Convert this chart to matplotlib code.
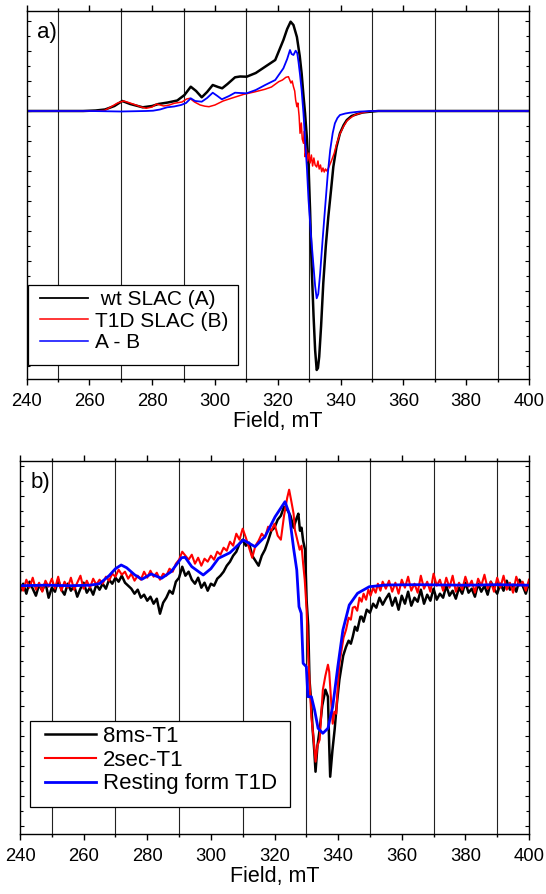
import matplotlib
matplotlib.use("Agg")
import matplotlib.pyplot as plt
from matplotlib.ticker import MultipleLocator
from matplotlib.lines import Line2D
from matplotlib.patches import Rectangle

plt.rcParams['font.family'] = ['Liberation Sans', 'DejaVu Sans']

# ---------------- panel a) data (field in mT, signal in arbitrary units) ----------------
a_black_field = [240, 250, 258, 262, 265, 268, 270.5, 273, 277, 280, 282, 285, 288, 290.3, 292.3, 294,
                 295.8, 297.5, 299.3, 301, 302.3, 304, 306.4, 308, 310.1, 313, 316, 319.2, 321.8, 323,
                 324.1, 325, 326.1, 327, 327.6, 328.2, 328.7, 329.3, 329.8, 330.3, 330.8, 331.4, 331.9,
                 332.4, 332.8, 333.2, 333.8, 334.5, 335.3, 336.1, 337, 337.7, 338.7, 339.8, 341, 342,
                 343.5, 345.1, 347, 349.4, 352, 360, 380, 400]
a_black = [0, 0, 0, 0.5, 1.5, 5, 10, 7, 3.7, 5, 7, 8.5, 10.5, 16, 24.3, 20,
           13.7, 19, 26, 24, 22.7, 27, 33.7, 34.5, 34.3, 38, 44.3, 51, 71, 82,
           89.3, 86, 74, 55, 37.7, 15, -2.3, -28, -55.7, -100, -155.7, -205, -239,
           -259, -257, -245.7, -215, -172, -135, -105.7, -78, -55.7, -36, -22.3, -14, -9,
           -5, -3.3, -1.5, -0.7, 0, 0, 0, 0]

a_red_field = [240, 255, 262, 264.8, 267, 269, 270.9, 272.5, 274.8, 276.5, 278.1, 280, 281.4, 283.7,
               285.5, 287, 289.5, 291, 292, 293.5, 295.3, 296.8, 298.1, 300, 302.6, 305, 309.2, 312.5,
               315.9, 318, 320.3, 321.5, 322.6, 323.4, 324.2, 324.6, 325, 325.4, 325.7, 326.1, 326.4,
               326.8, 327.1, 327.5, 327.8, 328.2, 328.5, 328.7, 329.1, 329.5, 329.9, 330.3, 330.7,
               331.1, 331.5, 331.9, 332.4, 332.8, 333.2, 333.6, 334, 334.4, 334.8, 335.2, 335.6,
               336.1, 337.2, 338, 338.8, 339.8, 340.9, 342, 343, 344.5, 346.2, 348, 350, 360, 380, 400]
a_red = [0, 0, 0, 0.5, 4.3, 8, 10, 8.5, 6, 4, 2.7, 4, 7, 5,
         6, 7.7, 9, 12, 12.7, 9, 6, 4.8, 4.3, 6, 10, 12.5, 16.7, 19,
         21.7, 24, 29.3, 31, 33.7, 34.3, 28, 30, 24.3, 20, 11, 4.3, 8,
         -5, -22.3, -12, -28, -32.3, -20, -45.7, -38, -50, -42, -52, -44,
         -55, -47, -54, -56, -50, -58, -54, -60.7, -57, -61, -58, -60,
         -57.3, -49, -42, -32.3, -23, -15.7, -10, -7.3, -4, -2.3, -1, 0, 0, 0, 0]

a_blue_field = [240, 260, 270, 278, 280.3, 282.5, 284.8, 287, 289.2, 290.8, 292.3, 293.7, 295.8, 297.5,
                299.3, 300.8, 302.2, 304.5, 306.4, 308, 310.1, 313, 316, 319.2, 321.8, 323, 323.9,
                324.4, 325, 325.7, 326.2, 326.6, 327.1, 327.6, 328.2, 328.7, 329.3, 329.8, 330.6,
                331.4, 331.9, 332.4, 332.9, 333.5, 334.3, 335.1, 335.9, 336.7, 337.5, 338.2, 339,
                339.8, 341.5, 343, 346, 350, 360, 380, 400]
a_blue = [0, 0, -0.5, 0, 0.3, 1.5, 3.7, 4.5, 6, 8, 12.7, 10, 9.3, 13,
          18.3, 15, 11.7, 15, 18.3, 18, 17.7, 21, 26, 31, 42.7, 52, 61,
          57, 56, 60.3, 58, 49.3, 36, 21, -3, -29, -58, -89, -125,
          -155.7, -175, -187.3, -183, -162.3, -128, -95.7, -64, -39, -22, -12.3, -7,
          -4, -2.5, -1.7, -0.6, 0, 0, 0, 0]

a_labels = [' wt SLAC (A)', 'T1D SLAC (B)', 'A - B']

# ---------------- panel b) data ----------------
b_black_field = list(range(240, 328)) + [
    327.5, 328, 328.5, 329, 329.6, 330.1, 330.6, 331, 331.5, 332, 332.5, 332.9, 333.5, 334.2, 335,
    336, 336.8, 337.2, 337.5, 338.2, 338.9, 339.6, 340.4, 341, 341.6, 342.5, 343.3, 344, 344.6,
    345.3, 346, 347, 347.4, 348, 349, 350, 351, 352, 353, 354, 355] + list(range(356, 401))
b_black = [-6, 2, -8, 4, -3, -10, 1, -5, 3, -12, -2, -6, 6, -4, -9, 2, -5, 0, -11, -3,
           3, -7, -2, -9, 1, -4, 2, -3, 6, 2, 8, 4, 10, 3, 0, -3, -8, -4, -12, -9,
           -15, -11, -18, -13, -28, -17, -12, -5, -8, 4, 8, 19, 10, 14, 6, 2, 8, -2, 3, -5,
           2, 0, 7, 10, 14, 20, 24, 30, 34, 42, 46, 40, 43, 30, 25, 20, 30, 36, 45, 55,
           58, 66, 70, 79, 76, 70, 58, 68,
           72, 55, 58, 45, 36, -15, -40, -94, -115, -144, -165, -186, -160, -144, -120,
           -104, -111, -160, -191, -165, -144, -118, -94, -82, -70, -61, -55, -58, -51,
           -41, -45, -31, -31, -36, -24, -27, -18, -22, -12, -19, -13,
           -8, -20, -12, -24, -10, -18, -6, -20, -12, -16, -4, -18, -9, -15, -3, -14, -8, -12,
           0, -10, -5, -13, -2, -8, 3, -7, -3, -11, 2, -6, 0, -9, 4, -3, -8, 2, -5, 5, -4,
           1, -6, 6, 0, -8, 3]

b_red_field = list(range(240, 324)) + [
    324, 324.6, 325.2, 326, 326.4, 327, 327.9, 328.5, 329, 329.5, 330.1, 330.6, 331.1, 331.6,
    332.2, 332.9, 333.5, 334.2, 334.7, 335.2, 336, 336.8, 337.2, 337.5, 338, 338.3, 338.8,
    339.4, 339.9, 340.4, 341, 341.7, 342.5, 343.3, 344, 344.6, 345.3, 346, 346.7, 347.4, 348,
    348.8, 349.5, 350.2, 351, 351.8, 352.5, 353.3, 354, 355] + list(range(356, 401))
b_red = [2, -5, 6, -2, 8, -4, 3, -6, 5, -1, 7, -3, 9, -5, 4, -2, 8, -4, 3, 10,
         -3, 5, -2, 7, 1, 6, 2, 9, 5, 12, 9, 16, 11, 14, 7, 12, 5, 10, 6, 14,
         8, 15, 9, 13, 6, 12, 10, 17, 14, 22, 26, 34, 30, 26, 31, 22, 28, 20, 27, 24,
         30, 26, 34, 31, 38, 35, 44, 40, 52, 46, 57, 48, 38, 28, 40, 45, 52, 48, 59, 55,
         62, 50, 46, 70,
         88, 96, 86, 72, 56, 48, 36, 40, 22, 6, -24, -70, -100, -132,
         -150, -176, -160, -154, -128, -104, -90, -79, -86, -101, -125, -138, -126,
         -128, -100, -78, -66, -52, -44, -32, -34, -22, -21, -25, -12, -16, -8,
         -14, -4, -10, -2, -7, 2, -5, 4, -3,
         5, -6, 3, -8, 6, -2, 9, -5, 2, -7, 10, -3, 4, -6, 12, 0, 6, -5, 8, -2,
         10, -6, 3, -4, 9, -1, 5, -7, 7, 0, 11, -3, 4, -6, 8, -2, 10, -4, 3, -7,
         9, 0, 4, -5, 6]

b_blue_field = [240, 248, 256, 262, 265, 268, 270, 271.8, 273.5, 276, 278.3, 281.2, 284.5, 287.5,
                290.8, 291.9, 294, 297.6, 300, 302.4, 306, 310.2, 313.9, 317, 320.2, 323.3, 324.6,
                326, 327, 327.7, 328.4, 329, 330, 330.5, 331.6, 332.6, 333.7, 335.2, 336.8, 338.3,
                339.9, 341.5, 343.5, 346.1, 349.8, 355, 365, 380, 390, 400]
b_blue = [0, 0.5, 0, 0.5, 2, 10, 17, 20.7, 18, 11, 6.4, 11.7, 7.4, 14,
          28, 28.4, 19, 10.7, 17, 27.4, 33, 45.7, 39, 49, 69, 84, 72.4,
          37.4, 15.7, -21, -27.6, -77.6, -81, -111, -111, -124.3, -142.6, -147.6, -142.6, -121,
          -81, -44.3, -19.3, -7.6, -1, 0.7, 1, 0.5, 1, 0.5]

b_labels = ['8ms-T1', '2sec-T1', 'Resting form T1D']

x_ticks = [240, 260, 280, 300, 320, 340, 360, 380, 400]
grid_lines = [250, 270, 290, 310, 330, 350, 370, 390]

W, H = 546, 894
fig = plt.figure(figsize=(W / 100, H / 100), dpi=100)


def style_axes(ax, ylim):
    ax.set_xlim(240, 400)
    ax.set_ylim(*ylim)
    ax.set_xticks(x_ticks)
    ax.xaxis.set_minor_locator(MultipleLocator(10))
    ax.yaxis.set_major_locator(MultipleLocator(30))
    ax.yaxis.set_minor_locator(MultipleLocator(15))
    ax.tick_params(axis='x', which='major', direction='out', length=4.5, width=1,
                   labelsize=13.3, top=True, pad=5.5)
    ax.tick_params(axis='x', which='minor', direction='out', length=2.5, width=1, top=True)
    ax.tick_params(axis='y', which='both', direction='in', length=3, width=0.8,
                   left=True, right=True, labelleft=False)
    ax.tick_params(axis='y', which='minor', length=2)
    for g in grid_lines:
        ax.axvline(g, color='#222222', lw=0.8, zorder=0.5)
    for s in ax.spines.values():
        s.set_linewidth(1.0)
    ax.set_xlabel('Field, mT', fontsize=15.5, labelpad=0.5)


def boxed_legend(ax, handles, labels, box, anchor, fs, hl, tp, ls):
    x0, y0, x1, y1 = box
    ax.add_patch(Rectangle((x0, y0), x1 - x0, y1 - y0, transform=ax.transAxes,
                           facecolor='white', edgecolor='black', lw=0.9, zorder=4,
                           clip_on=False))
    leg = ax.legend(handles, labels, loc='upper left', bbox_to_anchor=anchor, fontsize=fs,
                    frameon=False, handlelength=hl, handletextpad=tp, borderpad=0,
                    labelspacing=ls, borderaxespad=0)
    leg.set_zorder(5)
    return leg


# panel a
ax1 = fig.add_axes([26.5 / W, (H - 379.3) / H, (529 - 26.5) / W, (379.3 - 11) / H])
ax1.plot(a_black_field, a_black, color='black', lw=1.8)
ax1.plot(a_red_field, a_red, color='#ff0000', lw=1.1)
ax1.plot(a_blue_field, a_blue, color='#0000ff', lw=1.3)
style_axes(ax1, (-268.3, 100))
ax1.text(0.02, 0.97, 'a)', transform=ax1.transAxes, fontsize=16, va='top', ha='left')
h1 = [Line2D([], [], color='black', lw=1.3), Line2D([], [], color='#ff0000', lw=1.1),
      Line2D([], [], color='#0000ff', lw=1.1)]
boxed_legend(ax1, h1, a_labels, (0.0036, 0.0388, 0.4215, 0.256), (0.0269, 0.2425),
             15, 2.32, 0.3, 0.13)

# panel b
ax2 = fig.add_axes([20 / W, (H - 834.3) / H, (529 - 20) / W, (834.3 - 461) / H])
ax2.plot(b_black_field, b_black, color='black', lw=1.8)
ax2.plot(b_red_field, b_red, color='#ff0000', lw=1.5)
ax2.plot(b_blue_field, b_blue, color='#0000ff', lw=2.0)
style_axes(ax2, (-248.6, 124.7))
ax2.text(0.02, 0.97, 'b)', transform=ax2.transAxes, fontsize=16, va='top', ha='left')
h2 = [Line2D([], [], color='black', lw=1.8), Line2D([], [], color='#ff0000', lw=1.5),
      Line2D([], [], color='#0000ff', lw=2.0)]
boxed_legend(ax2, h2, b_labels, (0.0189, 0.0739, 0.5305, 0.3043), (0.0497, 0.290),
             16, 2.27, 0.32, 0.12)

fig.savefig('out.png', dpi=100)
